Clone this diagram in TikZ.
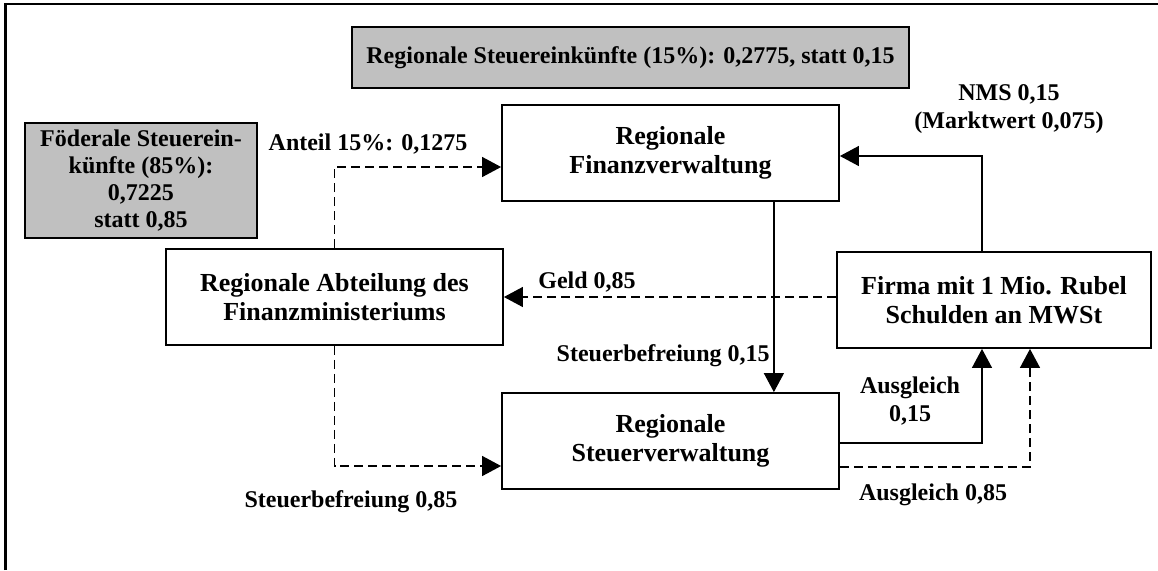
\documentclass[tikz,border=0pt]{standalone}
\usepackage{fontspec}
\setmainfont{Liberation Serif}
\usetikzlibrary{arrows.meta}
\usetikzlibrary{positioning}
\usetikzlibrary{calc}
\definecolor{kastengrau}{RGB}{192,192,192}
\tikzset{>={Triangle[length=9.5pt,width=10pt]}}
\tikzset{
    kasten/.style={draw,line width=0.9pt,align=center,inner sep=0pt,
        font=\bfseries\fontsize{13}{14.2}\selectfont,
        minimum width=168.5pt,minimum height=48pt},
    graukasten/.style={kasten,fill=kastengrau,
        font=\bfseries\fontsize{12}{13.6}\selectfont},
    beschr/.style={align=center,inner sep=0pt,
        font=\bfseries\fontsize{12}{13.6}\selectfont},
    fluss/.style={->,line width=0.65pt},
    gestrichelt/.style={fluss,dash pattern=on 4.5pt off 2.5pt},
}
\begin{document}
\begin{tikzpicture}[x=0.5pt,y=-0.5pt]
	\useasboundingbox (0,0) rectangle (1158,570);
	\draw[line width=1.1pt] (5.5,570) -- (5.5,4) -- (1158,4);
	\node[graukasten,minimum width=278.5pt,minimum height=30.5pt] (regein) at (630.5,57.5) {Regionale Steuereinkünfte (15\%): 0,2775, statt 0,15};
	\node[graukasten,minimum width=116pt,minimum height=57.5pt] (foed) at (141,180.5) {Föderale Steuerein-\\künfte (85\%):\\0,7225\\statt 0,85};
	\node[kasten] (fin) at (670.5,153) {Regionale\\Finanzverwaltung};
	\node[kasten] (abt) at (334.5,297) {Regionale Abteilung des\\Finanzministeriums};
	\node[kasten,minimum width=157pt] (firma) at (994,300) {Firma mit 1 Mio. Rubel\\Schulden an MWSt};
	\node[kasten] (steuer) at (670.5,441) {Regionale\\Steuerverwaltung};
	\draw[gestrichelt] (abt.north) |- ($(fin.west)+(0,14)$);
	\draw[gestrichelt] (firma.west |- abt.east) -- (abt.east);
	\draw[fluss] ($(fin.south east)+(-66,0)$) -- ($(steuer.north east)+(-66,0)$);
	\draw[fluss] ($(firma.north)+(-12,0)$) |- ($(fin.east)+(0,3)$);
	\draw[gestrichelt] (abt.south) |- ($(steuer.west)+(0,25)$);
	\draw[fluss] ($(steuer.east)+(0,2)$) -| ($(firma.south)+(-12,0)$);
	\draw[gestrichelt] ($(steuer.east)+(0,26)$) -| ($(firma.south)+(36,0)$);
	\node[beschr,anchor=base] (anteil) at (368,150) {Anteil 15\%: 0,1275};
	\node[beschr,anchor=base] (geld) at (587,288) {Geld 0,85};
	\node[beschr,anchor=base east] (stb15) at (770,361) {Steuerbefreiung 0,15};
	\node[beschr] (nms) at (1009,109) {NMS 0,15\\(Marktwert 0,075)};
	\node[beschr,anchor=base] (stb85) at (351,507) {Steuerbefreiung 0,85};
	\node[beschr] (ausg15) at (910,401) {Ausgleich\\0,15};
	\node[beschr,anchor=base] (ausg85) at (933,500) {Ausgleich 0,85};
\end{tikzpicture}
\end{document}
